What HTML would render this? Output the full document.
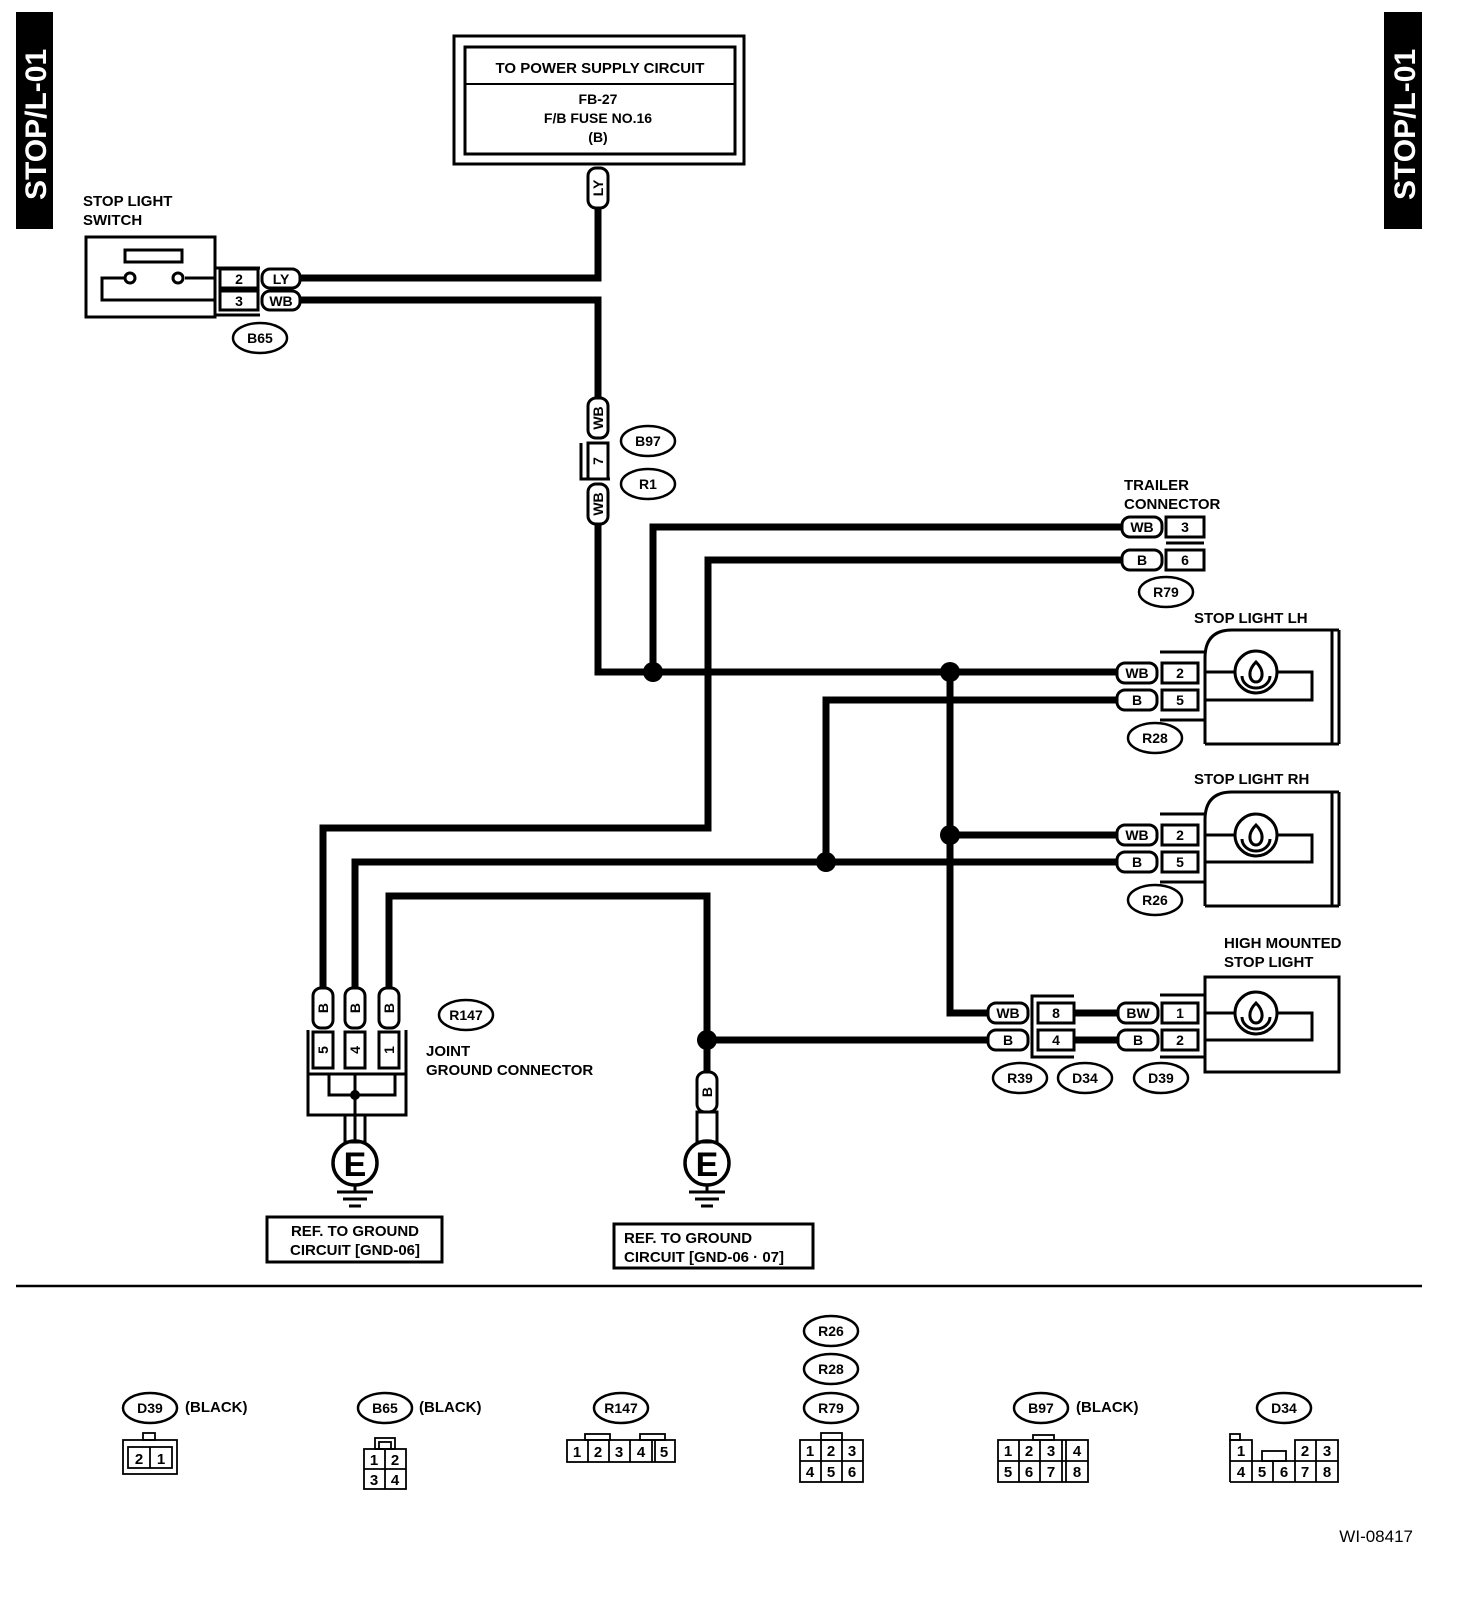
<!DOCTYPE html>
<html><head><meta charset="utf-8"><style>
html,body{margin:0;padding:0;background:#fff}
svg{display:block}
text{font-family:"Liberation Sans",sans-serif;font-weight:bold;fill:#000}
</style></head><body>
<svg width="1472" height="1600" viewBox="0 0 1472 1600" xmlns="http://www.w3.org/2000/svg">
<defs>
<g id="bulb"><circle cx="0" cy="0" r="21" fill="#fff" stroke="#000" stroke-width="3"/><path d="M-14,4 A14,12 0 0 0 14,4" fill="none" stroke="#000" stroke-width="3"/><path d="M0,-10 C-10,0 -6,10 0,10 C6,10 10,0 0,-10Z" fill="none" stroke="#000" stroke-width="3"/></g>
</defs>
<rect x="16" y="12" width="37" height="217" fill="#000"/>
<text transform="translate(46,200) rotate(-90)" font-size="30" style="fill:#fff">STOP/L-01</text>
<rect x="1384" y="12" width="38" height="217" fill="#000"/>
<text transform="translate(1415,200) rotate(-90)" font-size="30" style="fill:#fff">STOP/L-01</text>

<g fill="none" stroke="#000">
<rect x="454" y="36" width="290" height="128" stroke-width="3"/>
<rect x="465" y="47" width="270" height="107" stroke-width="3"/>
<line x1="465" y1="84" x2="735" y2="84" stroke-width="2"/>
</g>
<text x="600" y="73" font-size="15" text-anchor="middle" font-weight="normal">TO POWER SUPPLY CIRCUIT</text>
<text x="598" y="104" font-size="14" text-anchor="middle">FB-27</text>
<text x="598" y="123" font-size="14" text-anchor="middle">F/B FUSE NO.16</text>
<text x="598" y="142" font-size="14" text-anchor="middle">(B)</text>

<g fill="none" stroke="#000" stroke-width="7" stroke-linejoin="miter">
<polyline points="598,208 598,278 300,278"/>
<polyline points="300,300 598,300 598,398"/>
<polyline points="598,524 598,672 1117,672"/>
<polyline points="653,672 653,527 1122,527"/>
<polyline points="1122,560 708,560 708,828 323,828 323,988"/>
<polyline points="1117,700 826,700 826,862"/>
<polyline points="355,988 355,862 1117,862"/>
<polyline points="950,672 950,1013 988,1013"/>
<polyline points="950,835 1117,835"/>
<polyline points="389,988 389,896 707,896 707,1072"/>
<polyline points="707,1040 988,1040"/>
<line x1="1074" y1="1013" x2="1118" y2="1013"/>
<line x1="1074" y1="1040" x2="1118" y2="1040"/>
</g>
<g fill="#000">
<circle cx="653" cy="672" r="10"/><circle cx="950" cy="672" r="10"/>
<circle cx="950" cy="835" r="10"/><circle cx="826" cy="862" r="10"/>
<circle cx="707" cy="1040" r="10"/>
</g>

<g fill="#fff" stroke="#000" stroke-width="3">
<rect x="588" y="168" width="20" height="40" rx="8"/>
<rect x="262" y="269" width="38" height="19" rx="8"/>
<rect x="262" y="291" width="38" height="19" rx="8"/>
<rect x="588" y="398" width="20" height="40" rx="8"/>
<rect x="588" y="484" width="20" height="40" rx="8"/>
<rect x="1122" y="517" width="40" height="20" rx="8"/>
<rect x="1122" y="550" width="40" height="20" rx="8"/>
<rect x="1117" y="663" width="40" height="20" rx="8"/>
<rect x="1117" y="690" width="40" height="20" rx="8"/>
<rect x="1117" y="825" width="40" height="20" rx="8"/>
<rect x="1117" y="852" width="40" height="20" rx="8"/>
<rect x="988" y="1003" width="40" height="20" rx="8"/>
<rect x="988" y="1030" width="40" height="20" rx="8"/>
<rect x="1118" y="1003" width="40" height="20" rx="8"/>
<rect x="1118" y="1030" width="40" height="20" rx="8"/>
<rect x="313" y="988" width="20" height="40" rx="8"/>
<rect x="345" y="988" width="20" height="40" rx="8"/>
<rect x="379" y="988" width="20" height="40" rx="8"/>
<rect x="697" y="1072" width="20" height="40" rx="8"/>
</g>
<g font-size="14" text-anchor="middle">
<text transform="translate(603,188) rotate(-90)">LY</text>
<text x="281" y="284">LY</text><text x="281" y="306">WB</text>
<text transform="translate(603,418) rotate(-90)">WB</text>
<text transform="translate(603,504) rotate(-90)">WB</text>
<text x="1142" y="532">WB</text><text x="1142" y="565">B</text>
<text x="1137" y="678">WB</text><text x="1137" y="705">B</text>
<text x="1137" y="840">WB</text><text x="1137" y="867">B</text>
<text x="1008" y="1018">WB</text><text x="1008" y="1045">B</text>
<text x="1138" y="1018">BW</text><text x="1138" y="1045">B</text>
<text transform="translate(328,1008) rotate(-90)">B</text>
<text transform="translate(360,1008) rotate(-90)">B</text>
<text transform="translate(394,1008) rotate(-90)">B</text>
<text transform="translate(712,1092) rotate(-90)">B</text>
</g>

<text x="83" y="206" font-size="15">STOP LIGHT</text>
<text x="83" y="225" font-size="15">SWITCH</text>
<g fill="none" stroke="#000" stroke-width="3">
<rect x="86" y="237" width="129" height="80"/>
<rect x="125" y="250" width="57" height="12"/>
<polyline points="125,278 102,278 102,300 215,300"/>
<polyline points="185,278 215,278"/>
<circle cx="130" cy="278" r="5" fill="#fff"/>
<circle cx="178" cy="278" r="5" fill="#fff"/>
<line x1="215" y1="268" x2="260" y2="268"/>
<line x1="215" y1="315" x2="260" y2="315"/>
<rect x="220" y="269" width="38" height="19"/>
<rect x="220" y="291" width="38" height="19"/>
</g>
<text x="239" y="284" font-size="14" text-anchor="middle">2</text>
<text x="239" y="306" font-size="14" text-anchor="middle">3</text>

<g fill="#fff" stroke="#000" stroke-width="2.5">
<ellipse cx="260" cy="338" rx="27" ry="15"/>
<ellipse cx="648" cy="441" rx="27" ry="15"/>
<ellipse cx="648" cy="484" rx="27" ry="15"/>
<ellipse cx="1166" cy="592" rx="27" ry="15"/>
<ellipse cx="1155" cy="738" rx="27" ry="15"/>
<ellipse cx="1155" cy="900" rx="27" ry="15"/>
<ellipse cx="466" cy="1015" rx="27" ry="15"/>
<ellipse cx="1020" cy="1078" rx="27" ry="15"/>
<ellipse cx="1085" cy="1078" rx="27" ry="15"/>
<ellipse cx="1161" cy="1078" rx="27" ry="15"/>
</g>
<g font-size="14" text-anchor="middle">
<text x="260" y="343">B65</text><text x="648" y="446">B97</text><text x="648" y="489">R1</text>
<text x="1166" y="597">R79</text><text x="1155" y="743">R28</text><text x="1155" y="905">R26</text>
<text x="466" y="1020">R147</text><text x="1020" y="1083">R39</text><text x="1085" y="1083">D34</text><text x="1161" y="1083">D39</text>
</g>

<g fill="none" stroke="#000" stroke-width="3">
<rect x="588" y="443" width="20" height="36" fill="#fff"/>
<polyline points="581,443 581,479 610,479"/>
</g>
<text transform="translate(603,461) rotate(-90)" font-size="14" text-anchor="middle">7</text>

<text x="1124" y="490" font-size="15">TRAILER</text>
<text x="1124" y="509" font-size="15">CONNECTOR</text>
<g fill="none" stroke="#000" stroke-width="3">
<rect x="1166" y="517" width="38" height="20"/><rect x="1166" y="550" width="38" height="20"/>
<line x1="1166" y1="543" x2="1204" y2="543"/>
</g>
<text x="1185" y="532" font-size="14" text-anchor="middle">3</text>
<text x="1185" y="565" font-size="14" text-anchor="middle">6</text>

<g font-size="15"><text x="1194" y="623">STOP LIGHT LH</text><text x="1194" y="784">STOP LIGHT RH</text>
<text x="1224" y="948">HIGH MOUNTED</text><text x="1224" y="967">STOP LIGHT</text></g>
<g fill="none" stroke="#000" stroke-width="3">
<path d="M1205,744 L1205,658 Q1205,630 1232,630 L1339,630 M1205,744 L1339,744 M1332,630 L1332,744 M1339,630 L1339,744"/>
<path d="M1205,906 L1205,820 Q1205,792 1232,792 L1339,792 M1205,906 L1339,906 M1332,792 L1332,906 M1339,792 L1339,906"/>
<rect x="1205" y="977" width="134" height="95"/>
<polyline points="1205,672 1312,672 1312,700 1205,700"/>
<polyline points="1205,835 1312,835 1312,862 1205,862"/>
<polyline points="1205,1013 1312,1013 1312,1040 1205,1040"/>
<rect x="1162" y="663" width="36" height="20"/><rect x="1162" y="690" width="36" height="20"/>
<line x1="1160" y1="652" x2="1205" y2="652"/><line x1="1160" y1="720" x2="1205" y2="720"/>
<rect x="1162" y="825" width="36" height="20"/><rect x="1162" y="852" width="36" height="20"/>
<line x1="1160" y1="814" x2="1205" y2="814"/><line x1="1160" y1="882" x2="1205" y2="882"/>
<rect x="1162" y="1003" width="36" height="20"/><rect x="1162" y="1030" width="36" height="20"/>
<line x1="1160" y1="995" x2="1205" y2="995"/><line x1="1160" y1="1057" x2="1205" y2="1057"/>
<rect x="1038" y="1003" width="36" height="20"/><rect x="1038" y="1030" width="36" height="20"/>
<polyline points="1074,996 1032,996 1032,1057 1074,1057"/>
</g>
<use href="#bulb" x="1256" y="672"/><use href="#bulb" x="1256" y="835"/><use href="#bulb" x="1256" y="1013"/>
<g font-size="14" text-anchor="middle">
<text x="1180" y="678">2</text><text x="1180" y="705">5</text>
<text x="1180" y="840">2</text><text x="1180" y="867">5</text>
<text x="1180" y="1018">1</text><text x="1180" y="1045">2</text>
<text x="1056" y="1018">8</text><text x="1056" y="1045">4</text>
</g>

<text x="426" y="1056" font-size="15">JOINT</text>
<text x="426" y="1075" font-size="15">GROUND CONNECTOR</text>
<g fill="none" stroke="#000" stroke-width="3">
<polyline points="308,1030 308,1115 406,1115 406,1030"/>
<rect x="313" y="1032" width="20" height="36"/><rect x="345" y="1032" width="20" height="36"/><rect x="379" y="1032" width="20" height="36"/>
<line x1="308" y1="1074" x2="406" y2="1074"/>
<polyline points="329,1074 329,1095 395,1095 395,1074"/>
<line x1="355" y1="1074" x2="355" y2="1142"/>
<rect x="345" y="1115" width="20" height="27"/>
<rect x="697" y="1112" width="20" height="30"/>
<circle cx="355" cy="1163" r="22" stroke-width="3.5"/>
<circle cx="707" cy="1163" r="22" stroke-width="3.5"/>
<line x1="355" y1="1185" x2="355" y2="1191"/><line x1="707" y1="1185" x2="707" y2="1191"/>
<line x1="337" y1="1192" x2="373" y2="1192"/><line x1="343" y1="1199" x2="367" y2="1199"/><line x1="349" y1="1206" x2="361" y2="1206"/>
<line x1="689" y1="1192" x2="725" y2="1192"/><line x1="695" y1="1199" x2="719" y2="1199"/><line x1="701" y1="1206" x2="713" y2="1206"/>
</g>
<circle cx="355" cy="1095" r="5" fill="#000"/>
<g font-size="14" text-anchor="middle">
<text transform="translate(328,1050) rotate(-90)">5</text>
<text transform="translate(360,1050) rotate(-90)">4</text>
<text transform="translate(394,1050) rotate(-90)">1</text>
</g>
<text x="355" y="1176" font-size="34" text-anchor="middle">E</text>
<text x="707" y="1176" font-size="34" text-anchor="middle">E</text>

<g fill="none" stroke="#000" stroke-width="3">
<rect x="267" y="1217" width="175" height="45"/>
<rect x="614" y="1224" width="199" height="44"/>
<line x1="16" y1="1286" x2="1422" y2="1286" stroke-width="2.5"/>
</g>
<text x="355" y="1236" font-size="15" text-anchor="middle" font-weight="normal">REF. TO GROUND</text>
<text x="355" y="1255" font-size="15" text-anchor="middle" font-weight="normal">CIRCUIT [GND-06]</text>
<text x="624" y="1243" font-size="15">REF. TO GROUND</text>
<text x="624" y="1262" font-size="15">CIRCUIT [GND-06 · 07]</text>

<g fill="#fff" stroke="#000" stroke-width="2.5">
<ellipse cx="150" cy="1408" rx="27" ry="15"/>
<ellipse cx="385" cy="1408" rx="27" ry="15"/>
<ellipse cx="621" cy="1408" rx="27" ry="15"/>
<ellipse cx="831" cy="1331" rx="27" ry="15"/>
<ellipse cx="831" cy="1369" rx="27" ry="15"/>
<ellipse cx="831" cy="1408" rx="27" ry="15"/>
<ellipse cx="1041" cy="1408" rx="27" ry="15"/>
<ellipse cx="1284" cy="1408" rx="27" ry="15"/>
</g>
<g font-size="14" text-anchor="middle">
<text x="150" y="1413">D39</text><text x="385" y="1413">B65</text><text x="621" y="1413">R147</text>
<text x="831" y="1336">R26</text><text x="831" y="1374">R28</text><text x="831" y="1413">R79</text>
<text x="1041" y="1413">B97</text><text x="1284" y="1413">D34</text>
</g>
<g font-size="15">
<text x="185" y="1412">(BLACK)</text><text x="419" y="1412">(BLACK)</text><text x="1076" y="1412">(BLACK)</text>
</g>
<g fill="none" stroke="#000" stroke-width="1.8">
<rect x="123" y="1440" width="54" height="34"/><rect x="143" y="1433" width="12" height="7"/>
<rect x="128" y="1447" width="44" height="21"/><line x1="150" y1="1447" x2="150" y2="1468"/>
<rect x="375" y="1438" width="20" height="11"/><rect x="379" y="1442" width="12" height="7"/>
<rect x="364" y="1449" width="42" height="40"/><line x1="385" y1="1449" x2="385" y2="1489"/><line x1="364" y1="1469" x2="406" y2="1469"/>
<rect x="567" y="1440" width="108" height="22"/>
<rect x="585" y="1434" width="25" height="6"/><rect x="640" y="1434" width="25" height="6"/>
<line x1="588" y1="1440" x2="588" y2="1462"/><line x1="609" y1="1440" x2="609" y2="1462"/><line x1="630" y1="1440" x2="630" y2="1462"/><line x1="652" y1="1440" x2="652" y2="1462"/><line x1="655" y1="1440" x2="655" y2="1462"/>
<rect x="800" y="1440" width="63" height="42"/><rect x="821" y="1433" width="21" height="7"/>
<line x1="821" y1="1440" x2="821" y2="1482"/><line x1="842" y1="1440" x2="842" y2="1482"/><line x1="800" y1="1461" x2="863" y2="1461"/>
<rect x="998" y="1440" width="90" height="42"/><rect x="1033" y="1435" width="21" height="5"/>
<line x1="1019" y1="1440" x2="1019" y2="1482"/><line x1="1040" y1="1440" x2="1040" y2="1482"/><line x1="1062" y1="1440" x2="1062" y2="1482"/><line x1="1066" y1="1440" x2="1066" y2="1482"/><line x1="998" y1="1461" x2="1088" y2="1461"/>
<polyline points="1230,1482 1230,1440 1252,1440 1252,1461 1295,1461 1295,1440 1338,1440 1338,1482 1230,1482"/>
<rect x="1230" y="1434" width="10" height="6"/><rect x="1262" y="1451" width="24" height="10"/>
<line x1="1230" y1="1461" x2="1252" y2="1461"/><line x1="1295" y1="1461" x2="1338" y2="1461"/>
<line x1="1252" y1="1461" x2="1252" y2="1482"/><line x1="1273" y1="1461" x2="1273" y2="1482"/><line x1="1295" y1="1461" x2="1295" y2="1482"/><line x1="1316" y1="1440" x2="1316" y2="1482"/>
</g>
<g font-size="15" text-anchor="middle" style="font-weight:normal">
<text x="139" y="1464">2</text><text x="161" y="1464">1</text>
<text x="374" y="1465">1</text><text x="395" y="1465">2</text>
<text x="374" y="1485">3</text><text x="395" y="1485">4</text>
<text x="577" y="1457">1</text><text x="598" y="1457">2</text><text x="619" y="1457">3</text><text x="641" y="1457">4</text><text x="664" y="1457">5</text>
<text x="810" y="1456">1</text><text x="831" y="1456">2</text><text x="852" y="1456">3</text>
<text x="810" y="1477">4</text><text x="831" y="1477">5</text><text x="852" y="1477">6</text>
<text x="1008" y="1456">1</text><text x="1029" y="1456">2</text><text x="1051" y="1456">3</text><text x="1077" y="1456">4</text>
<text x="1008" y="1477">5</text><text x="1029" y="1477">6</text><text x="1051" y="1477">7</text><text x="1077" y="1477">8</text>
<text x="1241" y="1456">1</text><text x="1305" y="1456">2</text><text x="1327" y="1456">3</text>
<text x="1241" y="1477">4</text><text x="1262" y="1477">5</text><text x="1284" y="1477">6</text><text x="1305" y="1477">7</text><text x="1327" y="1477">8</text>
</g>
<text x="1413" y="1542" font-size="17" text-anchor="end" style="font-weight:normal">WI-08417</text>
</svg>
</body></html>
